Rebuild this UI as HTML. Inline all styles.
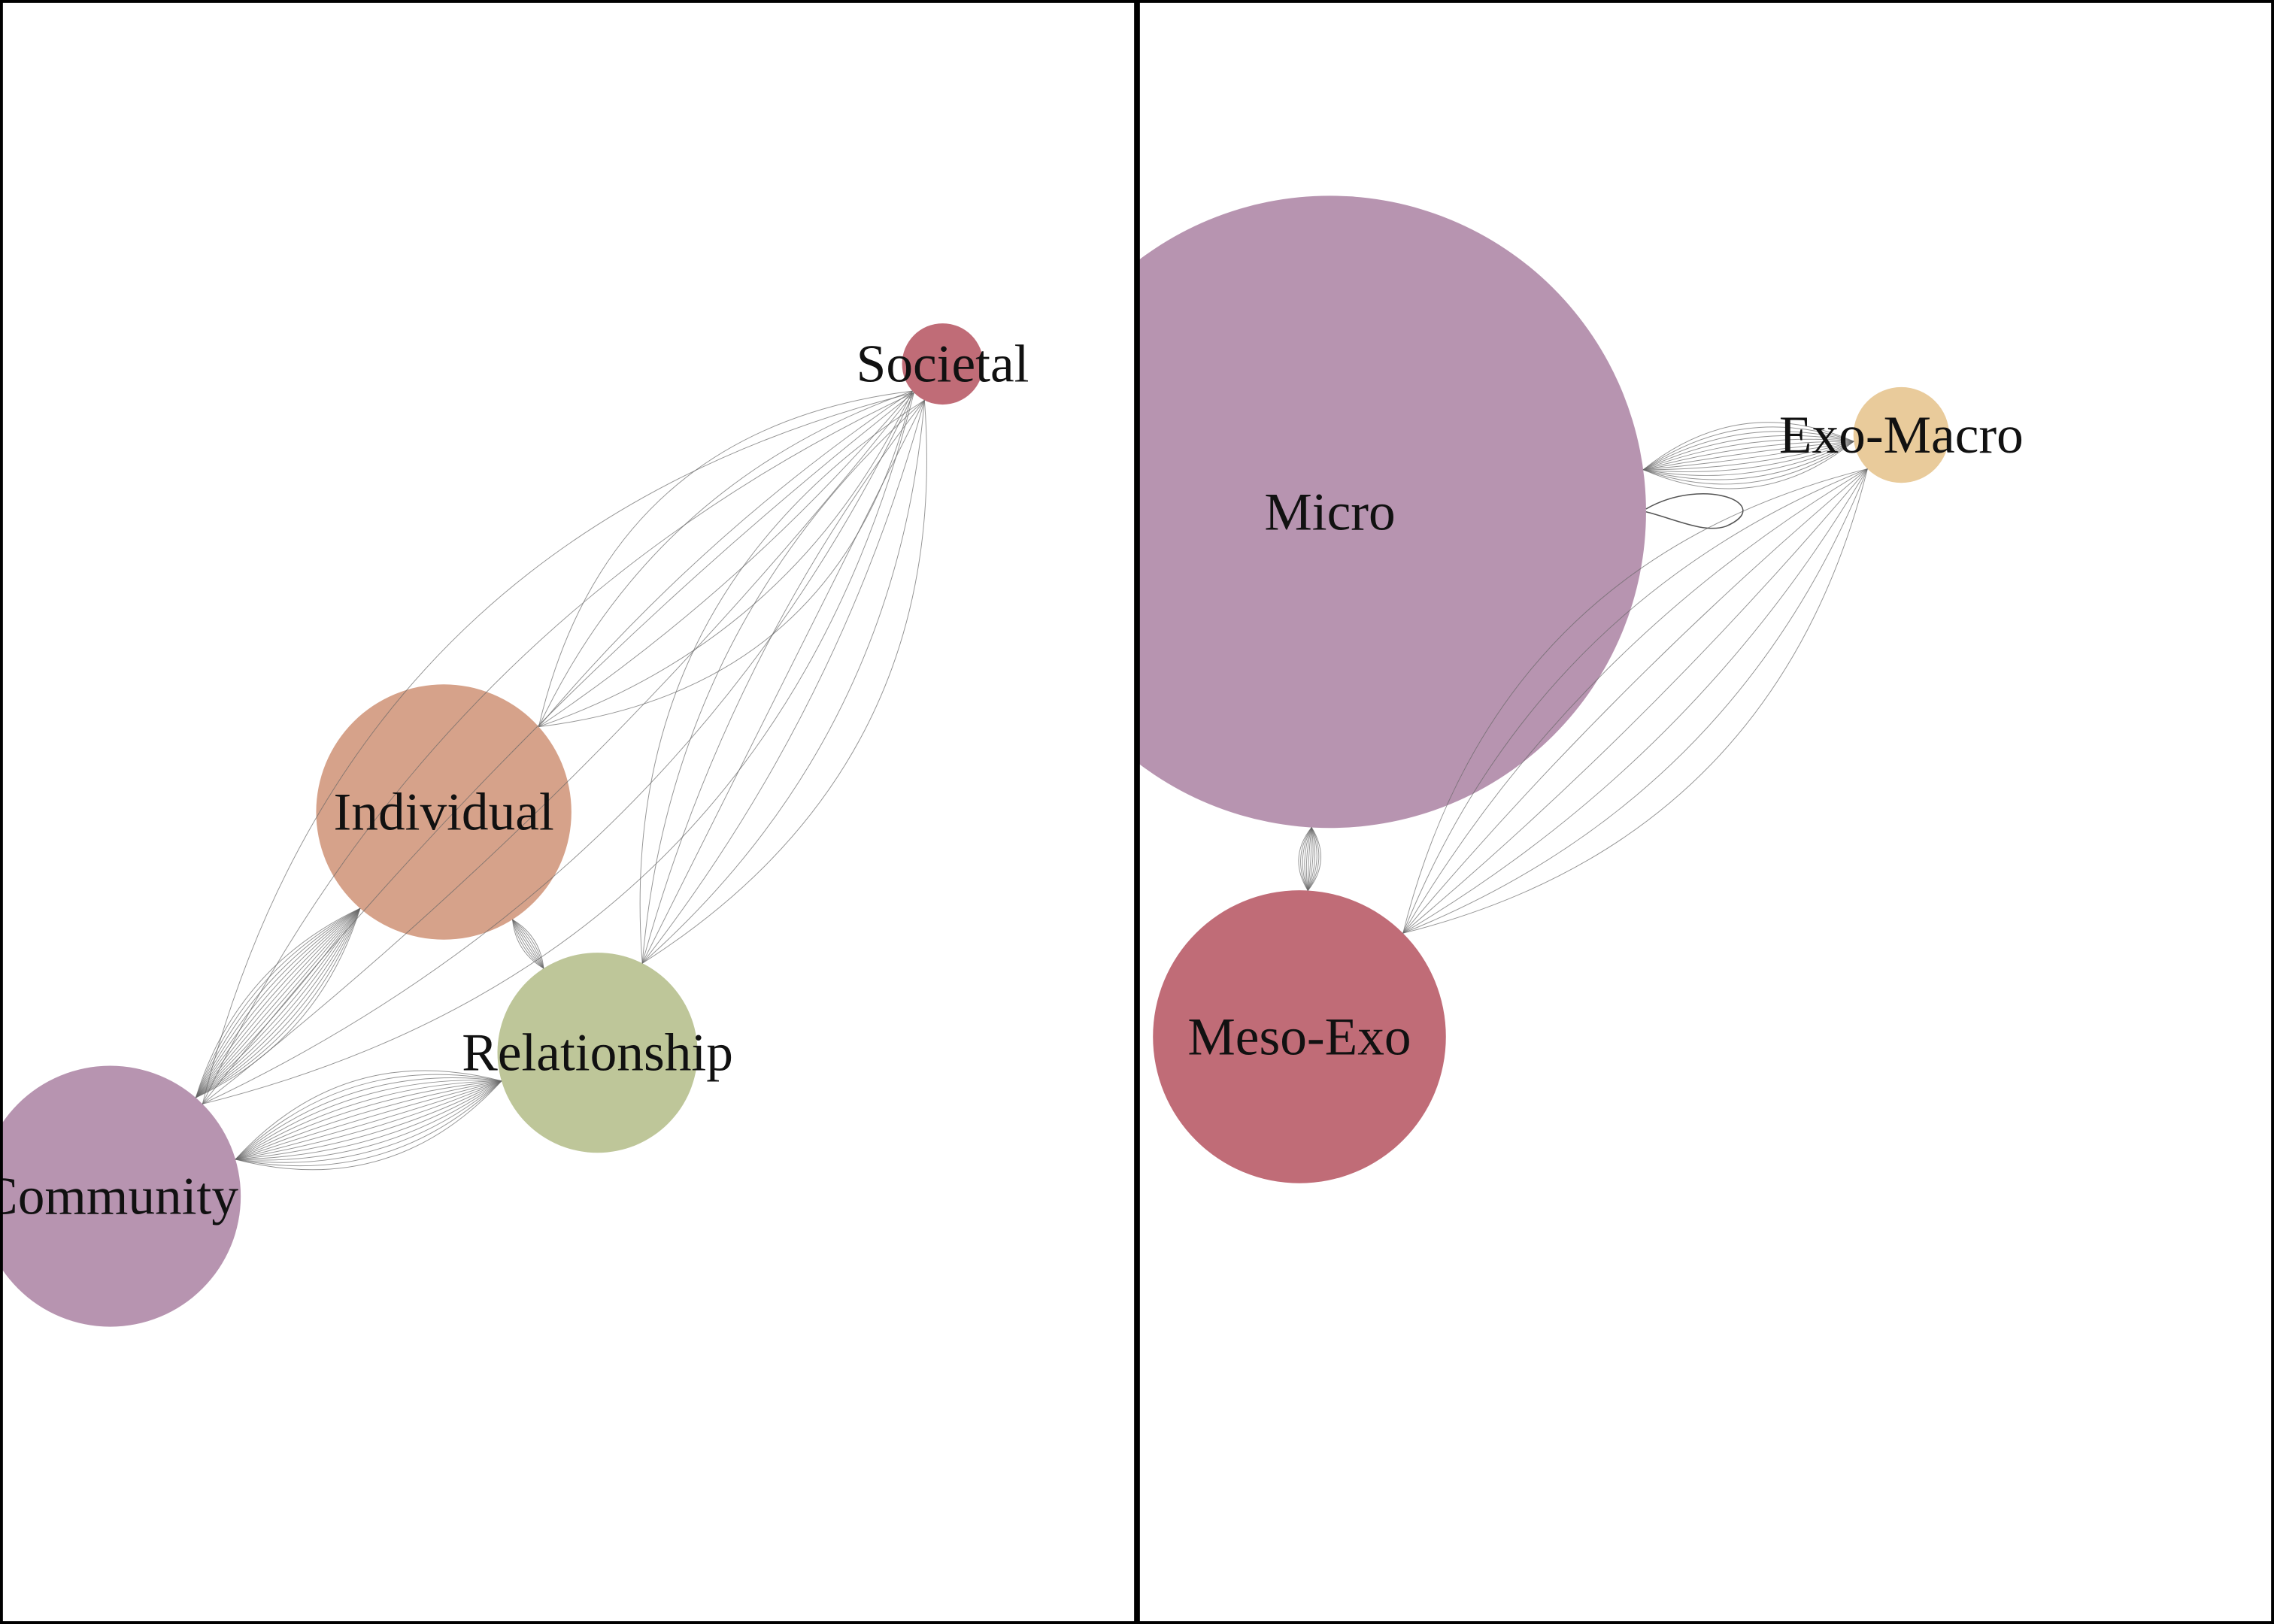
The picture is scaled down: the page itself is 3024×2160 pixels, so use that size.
<!DOCTYPE html>
<html><head><meta charset="utf-8"><style>
html,body{margin:0;padding:0;background:#fff;width:3024px;height:2160px;overflow:hidden}
svg{display:block}
text{font-family:"Liberation Serif",serif;font-size:37px;fill:#111;text-anchor:middle;dominant-baseline:central}
</style></head><body>
<svg id="chart" width="3024" height="2160" viewBox="0 0 1568 1120" xmlns="http://www.w3.org/2000/svg">
<defs><clipPath id="cl"><rect x="0" y="0" width="784" height="1120"/></clipPath>
<clipPath id="cr"><rect x="784" y="0" width="784" height="1120"/></clipPath></defs>
<rect x="0" y="0" width="1568" height="1120" fill="#fff"/>
<g id="left" clip-path="url(#cl)"></g>
<g id="right" clip-path="url(#cr)"></g>
<rect x="1" y="1" width="782" height="1118" fill="none" stroke="#000" stroke-width="2"/>
<rect x="785" y="1" width="782" height="1118" fill="none" stroke="#000" stroke-width="2"/>
</svg>
<script>
const leftNodes=["Societal","Individual","Relationship","Community"];
const leftX=[650,306,412,76];
const leftY=[251,560,726,825];
const leftR=[28,88,69,90];
const leftColor=["#c06c77","#d6a28a","#bec699","#b794b0"];
const leftEdgeFrom=[3,3,1,0,0,0];
const leftEdgeTo=[1,2,2,1,2,3];
const leftEdgeCount=[16,16,8,6,7,6];
const leftEdgeBend=[0.22,0.3,0.25,0.35,0.3,0.3];

const rightNodes=["Micro","Exo-Macro","Meso-Exo"];
const rightX=[917,1311,896];
const rightY=[353,300,715];
const rightR=[218,33,101];
const rightColor=["#b794b0","#e9cb9b","#c06c77"];
const rightEdgeFrom=[0,0,1];
const rightEdgeTo=[1,2,2];
const rightEdgeCount=[14,12,8];
const rightEdgeBend=[0.3,0.35,0.3];
const rightSelfLoops=[1,0,0];

const NS="http://www.w3.org/2000/svg";
function draw(g,names,X,Y,R,C,ef,et,ec,eb,loops){
  names.forEach((n,i)=>{
    const c=document.createElementNS(NS,'circle');
    c.setAttribute('cx',X[i]);c.setAttribute('cy',Y[i]);c.setAttribute('r',R[i]);c.setAttribute('fill',C[i]);
    
    
    g.appendChild(c);
  });
  ef.forEach((a,k)=>{
    const b=et[k];
    const dx=X[b]-X[a],dy=Y[b]-Y[a],d=Math.hypot(dx,dy);
    const ux=dx/d,uy=dy/d,px=-uy,py=ux;
    const x1=X[a]+ux*R[a],y1=Y[a]+uy*R[a],x2=X[b]-ux*R[b],y2=Y[b]-uy*R[b];
    const L=Math.hypot(x2-x1,y2-y1);
    const n=ec[k];
    for(let i=0;i<n;i++){
      const t=n>1?(i/(n-1))*2-1:0;
      const off=t*eb[k]*L;
      const mx=(x1+x2)/2+px*off,my=(y1+y2)/2+py*off;
      const p=document.createElementNS(NS,'path');
      p.setAttribute('d',`M${x1},${y1} Q${mx},${my} ${x2},${y2}`);
      p.setAttribute('fill','none');p.setAttribute('stroke','#666');p.setAttribute('stroke-width','0.5');p.setAttribute('stroke-opacity','0.7');
      
      
      g.appendChild(p);
    }
  });
  if(loops){loops.forEach((m,i)=>{for(let j=0;j<m;j++){
    const sx=X[i]+R[i],sy=Y[i];
    const p=document.createElementNS(NS,'path');
    p.setAttribute('d',`M${sx},${sy-2} C${sx+40},${sy-25} ${sx+90},${sy-5} ${sx+55},${sy+10} C${sx+40},${sy+15} ${sx+20},${sy+5} ${sx},${sy}`);
    p.setAttribute('fill','none');p.setAttribute('stroke','#555');p.setAttribute('stroke-width','0.8');
    
    
    g.appendChild(p);
  }});}
  names.forEach((n,i)=>{
    const t=document.createElementNS(NS,'text');
    t.setAttribute('x',X[i]);t.setAttribute('y',Y[i]);t.textContent=n;
    
    
    g.appendChild(t);
  });
}
draw(document.getElementById('left'),leftNodes,leftX,leftY,leftR,leftColor,leftEdgeFrom,leftEdgeTo,leftEdgeCount,leftEdgeBend,null);
draw(document.getElementById('right'),rightNodes,rightX,rightY,rightR,rightColor,rightEdgeFrom,rightEdgeTo,rightEdgeCount,rightEdgeBend,rightSelfLoops);
</script>
</body></html>
